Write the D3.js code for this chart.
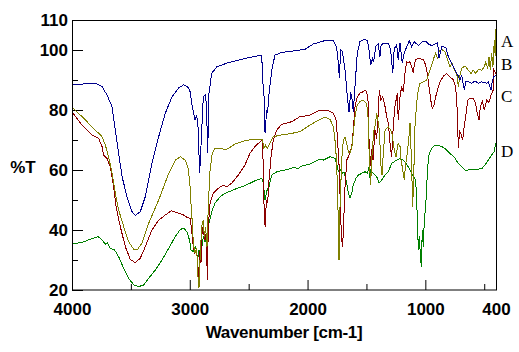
<!DOCTYPE html>
<html>
<head>
<meta charset="utf-8">
<script src="https://cdn.jsdelivr.net/npm/d3@7"></script>
<style>
  body { margin: 0; background: #fff; }
  svg { display: block; }
  .tick text { font-family: "Liberation Sans", Arial, sans-serif; font-weight: bold; font-size: 17px; fill: #000; }
  .tick line { stroke: #000; }
</style>
</head>
<body>
<script>
// FTIR spectra, [wavenumber cm-1, %T]
const specA = [[4000,88.6],[3858,88.7],[3800,88.9],[3745,87.8],[3703,85],[3660,81.1],[3632,73.3],[3604,65.6],[3575,57.8],[3533,51.1],[3490,46.1],[3462,44.9],[3420,46.1],[3378,51.1],[3321,62.2],[3264,71.1],[3208,78.9],[3151,84.4],[3094,87.4],[3052,88.4],[3020,87.8],[3000,86.7],[2979,81.1],[2956,76.7],[2941,78],[2930,74.4],[2916,58.9],[2905,67.8],[2885,84.4],[2866,85],[2857,80],[2848,65.6],[2837,85.6],[2814,92.2],[2771,94.4],[2672,95.8],[2531,97.2],[2389,98.3],[2381,90],[2367,83.3],[2361,72.2],[2347,80],[2340,78.9],[2327,85.6],[2299,94.4],[2276,98.3],[2220,99.2],[2100,99.8],[2022,100.2],[1951,102],[1838,103.3],[1781,103.1],[1753,101],[1739,95.6],[1730,90.6],[1719,100],[1705,99.5],[1682,93.3],[1662,84.4],[1648,79.4],[1634,86.1],[1620,83],[1612,79.4],[1597,88],[1578,98.9],[1555,102.8],[1512,103.6],[1490,103],[1476,99.4],[1464,95],[1450,97.2],[1440,96],[1419,101.3],[1400,102],[1385,97.8],[1376,101.5],[1357,102.2],[1314,102.3],[1294,100],[1277,92.2],[1264,100.5],[1243,101.7],[1230,96.7],[1222,100],[1215,102.2],[1196,95.6],[1179,99],[1159,101],[1136,103.1],[1116,101],[1094,102.8],[1060,101.5],[1031,102.6],[997,103],[975,102],[946,101.5],[895,102.4],[884,97.2],[861,101.1],[827,100.9],[805,97.8],[782,96.1],[762,94.4],[742,92.8],[725,91.7],[706,90],[692,91.7],[669,86.7],[657,89.4],[635,89.4],[606,88.9],[578,89.7],[550,88.9],[521,89.4],[479,88.9],[465,89.4],[442,86.7],[430,90],[418,91.1],[400,91.5]];

const specB = [[4000,80.9],[3915,77.8],[3830,74.4],[3745,71.1],[3717,68.3],[3689,64.4],[3660,58.9],[3632,52.2],[3604,46.7],[3561,41.1],[3519,36.1],[3476,33.6],[3448,33.3],[3406,35.6],[3349,42.2],[3264,50],[3179,58.9],[3123,63.3],[3080,64.4],[3038,63.3],[3015,60.6],[3000,56],[2990,48.9],[2980,43.3],[2970,35.6],[2956,32.2],[2941,34],[2933,25.6],[2922,20.6],[2911,32],[2899,41.1],[2885,43.3],[2877,37.8],[2866,41],[2854,34.4],[2843,47.8],[2828,60],[2809,65.6],[2786,67.2],[2729,67.3],[2701,66.7],[2672,67.2],[2616,68.7],[2531,69.8],[2446,70.3],[2384,70.3],[2370,67.2],[2355,68.3],[2341,67.2],[2318,69],[2291,71.1],[2220,71.7],[2135,72.2],[2064,72.8],[2022,73.9],[1979,75],[1894,76.9],[1852,77.6],[1809,76.9],[1781,74.4],[1764,68.9],[1753,62.2],[1742,47.8],[1733,30],[1725,47],[1710,63.3],[1696,70],[1682,70.9],[1667,68.9],[1654,66.1],[1640,65.6],[1625,67.2],[1612,72.2],[1597,77.8],[1578,81.7],[1555,82.8],[1527,83.3],[1498,82.2],[1484,76.7],[1476,63.3],[1464,55],[1456,63],[1448,68],[1436,73.3],[1425,75],[1413,78.9],[1402,76.5],[1391,73.3],[1376,61.1],[1368,58.3],[1357,65.6],[1342,73.3],[1314,74.4],[1286,72.8],[1264,66.7],[1249,64.4],[1235,68],[1230,68.9],[1215,67.8],[1207,63.3],[1196,61.1],[1179,56.7],[1167,62],[1153,65.6],[1139,71.1],[1130,75.6],[1124,70],[1115,58.9],[1107,47.8],[1096,62],[1088,74.4],[1074,82.2],[1060,86.7],[1045,88.9],[1017,89.4],[988,90],[975,91.5],[960,93.3],[941,95.6],[924,97.8],[912,98.9],[895,97.2],[884,99.5],[861,100.2],[833,99.4],[810,96.7],[791,94.4],[772,95.5],[754,93.3],[734,92.2],[720,87.8],[706,91.5],[692,93.9],[663,94.7],[635,93.3],[612,92.2],[593,93.3],[572,92.2],[550,93.5],[521,93.3],[499,94.4],[487,96],[470,93.8],[459,97.8],[448,93.3],[437,98.9],[426,94.4],[414,103.3],[407,98],[402,107]];

const specC = [[4000,79.4],[3915,75],[3830,71.7],[3774,70.6],[3745,67.8],[3731,65],[3703,63.9],[3675,61.1],[3646,54.4],[3626,47.8],[3590,41.1],[3547,34.4],[3505,30.2],[3462,29.1],[3420,30.6],[3378,34.4],[3321,40],[3264,43.3],[3208,45],[3157,46.4],[3094,45.6],[3052,45],[3024,44.2],[2998,43.9],[2984,40],[2970,34.4],[2956,32.2],[2941,33.5],[2927,22.2],[2916,33],[2905,28.9],[2894,41.1],[2882,39],[2871,36.7],[2860,39],[2851,23.3],[2843,41.1],[2828,48.9],[2800,52.2],[2758,53.9],[2715,55],[2687,54.4],[2644,55.6],[2588,58.3],[2531,61.7],[2489,65.6],[2446,67.8],[2404,69.4],[2384,70],[2376,61.1],[2367,43.3],[2359,41.1],[2350,50],[2339,48.9],[2327,56.7],[2310,64.4],[2291,70],[2262,73.3],[2220,75.2],[2135,76.1],[2064,77.8],[2022,78],[1979,78.3],[1894,80],[1838,80],[1781,78.9],[1758,76.7],[1747,71.1],[1730,60],[1719,44.4],[1710,36.7],[1702,34.4],[1691,45],[1682,54.4],[1667,63.3],[1654,64.4],[1640,66.1],[1625,67.5],[1612,73.3],[1597,81.1],[1578,84.4],[1555,85.6],[1527,86.1],[1512,86.7],[1498,86.1],[1484,82.2],[1476,65.6],[1470,61.1],[1456,67],[1444,63.3],[1428,73.3],[1413,70.5],[1400,78.9],[1391,86.7],[1379,83.3],[1362,84.4],[1342,81.1],[1328,77.8],[1314,75.6],[1300,68.9],[1286,64.4],[1272,75],[1258,81.1],[1238,85.6],[1230,76.7],[1215,84.4],[1201,87.8],[1187,86],[1173,92.2],[1159,96.1],[1145,95.8],[1130,96.1],[1116,94.5],[1102,92.2],[1093,95.5],[1079,96.9],[1045,97.2],[1017,96.7],[997,95],[983,92.2],[969,87.8],[954,83.3],[941,80.6],[926,81.7],[912,84.4],[890,87.8],[867,90],[848,91.2],[819,92.2],[791,91.1],[762,90],[748,88.3],[734,84.4],[725,74.4],[720,67.2],[709,73],[698,72.2],[683,70],[672,74],[657,77.8],[640,83.3],[621,83.9],[593,83.9],[573,82.2],[559,78.9],[544,76.7],[533,81],[516,82.8],[499,80],[479,83.3],[460,82.5],[442,85],[423,86.7],[418,93.3],[400,92]];

const specD = [[4000,35.3],[3915,35.9],[3830,37.1],[3779,37.8],[3745,36.7],[3717,35.3],[3700,35.8],[3675,33.9],[3638,33.3],[3604,31.1],[3561,27.2],[3519,23.9],[3476,21.7],[3434,21.1],[3391,21.7],[3349,23.9],[3292,26.7],[3236,30],[3179,33.9],[3123,37.8],[3080,40.2],[3052,40.6],[3024,39.4],[3010,37.8],[2998,35.6],[2990,33.3],[2970,32.8],[2950,34.5],[2933,30],[2922,33.3],[2905,32.2],[2885,37.8],[2871,36.1],[2854,38.9],[2837,42.2],[2814,46.1],[2786,48.9],[2743,51.1],[2701,52.2],[2616,53.6],[2531,54.8],[2446,56.4],[2389,57.2],[2376,55.6],[2361,50],[2347,53],[2327,54.4],[2305,58.3],[2262,59.4],[2192,60],[2107,60.9],[2081,60.3],[2064,61.1],[2022,61.6],[1979,62],[1894,63.6],[1866,63.3],[1809,64.4],[1767,63.9],[1747,61.1],[1739,59.4],[1725,60.2],[1702,58.9],[1690,59.3],[1667,55.6],[1654,52.2],[1640,50.8],[1625,52.2],[1612,55],[1589,57.2],[1569,58.3],[1540,58.9],[1512,59.4],[1490,58.9],[1478,61.1],[1470,57.2],[1462,60],[1444,58.9],[1413,57.8],[1393,55.6],[1371,56.7],[1342,58.3],[1314,59.4],[1286,62.2],[1243,63.3],[1215,63.9],[1190,63.3],[1162,62.2],[1130,60],[1102,57.8],[1082,56.7],[1074,50],[1065,41.1],[1060,33.3],[1052,38],[1043,32.2],[1034,27.8],[1026,40],[1017,34.4],[1009,43.3],[997,47.8],[989,54.4],[980,61.1],[967,65.6],[946,67.2],[918,68.3],[890,68.3],[861,67.8],[833,67.2],[805,66.1],[776,65],[748,63.9],[720,62.2],[692,61.1],[663,60],[635,60],[578,60.2],[521,60.4],[493,61.7],[465,63.3],[437,65],[417,66.1],[402,68.9]];

const seriesNames = ["A", "B", "C", "D"];
const seriesColors = ["#00008b", "#808000", "#8b0000", "#008000"];
const labelLevels = [101, 93.3, 82.7, 64.3];   // %T where each letter sits

const xMajor = [4000, 3000, 2000, 1000, 400];
const xMinor = [3500, 2500, 1500, 500];
const yMajor = [20, 40, 60, 80, 100, 110];
const yMinor = [30, 50, 70, 90];

const W = 519, H = 352;
const margin = {top: 20, right: 23, bottom: 62, left: 72};
const plotW = W - margin.left - margin.right;
const plotH = H - margin.top - margin.bottom;

const svg = d3.select("body").append("svg")
    .attr("width", W)
    .attr("height", H);

svg.append("rect").attr("width", W).attr("height", H).attr("fill", "#fff");

const g = svg.append("g")
    .attr("transform", `translate(${margin.left},${margin.top})`);

const x = d3.scaleLinear().domain([4000, 400]).range([0, plotW]);
const y = d3.scaleLinear().domain([20, 110]).range([plotH, 0]);

// axes, ticks point inward
g.append("g")
    .attr("transform", `translate(0,${plotH})`)
    .call(d3.axisBottom(x).tickValues(xMajor).tickSize(-10).tickSizeOuter(0).tickPadding(13).tickFormat(d3.format("d")))
    .call(a => a.select(".domain").remove());
g.append("g")
    .attr("transform", `translate(0,${plotH})`)
    .call(d3.axisBottom(x).tickValues(xMinor).tickSize(-6).tickSizeOuter(0).tickFormat(""))
    .call(a => a.select(".domain").remove());
g.append("g")
    .call(d3.axisLeft(y).tickValues(yMajor).tickSize(-11).tickSizeOuter(0).tickPadding(4).tickFormat(d3.format("d")))
    .call(a => a.select(".domain").remove());
g.append("g")
    .call(d3.axisLeft(y).tickValues(yMinor).tickSize(-6).tickSizeOuter(0).tickFormat(""))
    .call(a => a.select(".domain").remove());

g.append("clipPath").attr("id", "clip")
    .append("rect").attr("width", plotW).attr("height", plotH);

const line = d3.line().x(d => x(d[0])).y(d => y(d[1]));
const allSpec = [specA, specB, specC, specD];

// draw D first so A ends up on top
g.append("g").attr("clip-path", "url(#clip)")
    .selectAll("path")
    .data(allSpec.map((s, i) => ({s, i})).reverse())
    .join("path")
    .attr("d", d => line(d.s))
    .attr("fill", "none")
    .attr("stroke", d => seriesColors[d.i])
    .attr("stroke-width", 1)
    .attr("shape-rendering", "crispEdges");

// frame
g.append("rect")
    .attr("x", 0.5).attr("y", 0.5)
    .attr("width", plotW).attr("height", plotH - 0.5)
    .attr("fill", "none")
    .attr("stroke", "#000")
    .attr("stroke-width", 1);

// letters on the right
g.selectAll(".lbl")
    .data(seriesNames)
    .join("text")
    .attr("class", "lbl")
    .attr("x", plotW + 5)
    .attr("y", (d, i) => y(labelLevels[i]))
    .attr("font-family", "'Liberation Serif', 'Times New Roman', serif")
    .attr("font-size", 17)
    .text(d => d);

svg.append("text")
    .attr("x", 23).attr("y", 173)
    .attr("text-anchor", "middle")
    .attr("font-family", "'Liberation Sans', Arial, sans-serif")
    .attr("font-weight", "bold")
    .attr("font-size", 17)
    .text("%T");

svg.append("text")
    .attr("x", margin.left + plotW / 2).attr("y", 338)
    .attr("text-anchor", "middle")
    .attr("font-family", "'Liberation Sans', Arial, sans-serif")
    .attr("font-weight", "bold")
    .attr("font-size", 17)
    .attr("letter-spacing", "-0.3")
    .text("Wavenumber [cm-1]");
</script>
</body>
</html>
